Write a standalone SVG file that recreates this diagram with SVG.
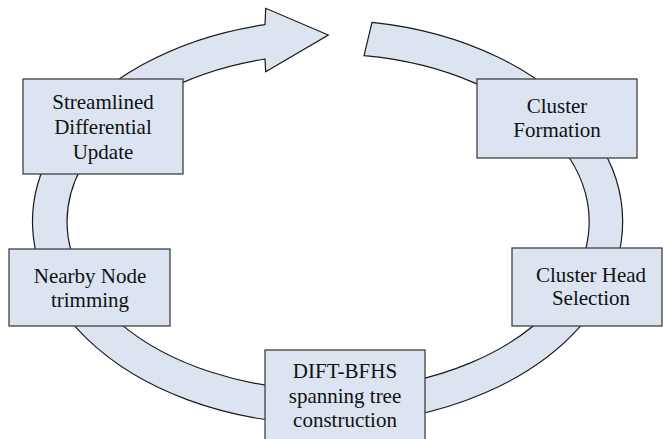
<svg xmlns="http://www.w3.org/2000/svg" width="663" height="439" viewBox="0 0 663 439">
<style>
.ring{fill:#dbe4f0;stroke:#1a1a1a;stroke-width:1.2;stroke-linejoin:miter}
.box{fill:#dbe4f0;stroke:#404040;stroke-width:1.3}
.lbl{font-family:"Liberation Serif","Times New Roman",serif;font-size:21px;fill:#111;text-anchor:middle}
</style>
<rect width="663" height="439" fill="#ffffff"/>
<g id="connectors">
<path class="ring" d="M372,22.3 A295,202 0 1 1 265,24.6 L265.7,8.3 L328.3,35 L265.7,71.7 L265,59 A261,168 0 1 0 364,55.6 Z"/>
</g>
<g id="node-sdu">
<rect class="box" x="23" y="79" width="160" height="95"/>
<text class="lbl" x="103" y="109">Streamlined</text>
<text class="lbl" x="103" y="134">Differential</text>
<text class="lbl" x="103" y="159">Update</text>
</g>
<g id="node-cf">
<rect class="box" x="477" y="79" width="160" height="79"/>
<text class="lbl" x="557" y="113">Cluster</text>
<text class="lbl" x="557" y="137">Formation</text>
</g>
<g id="node-nnt">
<rect class="box" x="9" y="249" width="161" height="77"/>
<text class="lbl" x="90" y="283">Nearby Node</text>
<text class="lbl" x="90" y="307">trimming</text>
</g>
<g id="node-chs">
<rect class="box" x="512" y="248" width="150" height="78"/>
<text class="lbl" x="591" y="282">Cluster Head</text>
<text class="lbl" x="591" y="305">Selection</text>
</g>
<g id="node-dift">
<rect class="box" x="265" y="350" width="160" height="95"/>
<text class="lbl" x="345" y="378">DIFT-BFHS</text>
<text class="lbl" x="345" y="403">spanning tree</text>
<text class="lbl" x="345" y="427">construction</text>
</g>
</svg>
